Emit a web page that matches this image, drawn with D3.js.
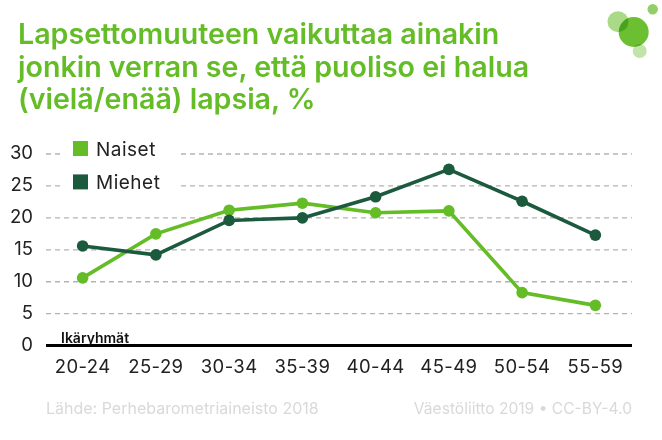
<!DOCTYPE html>
<html>
<head>
<meta charset="utf-8">
<script src="https://cdnjs.cloudflare.com/ajax/libs/d3/7.8.5/d3.min.js"></script>
<style>
    html, body { margin: 0; background: #fff; }
    svg { display: block; font-family: Inter, "Noto Sans", sans-serif; }
</style>
</head>
<body>
<div id="chart"></div>
<script>
const ageGroups = ['20-24', '25-29', '30-34', '35-39', '40-44', '45-49', '50-54', '55-59'];
const naiset = [10.6, 17.5, 21.2, 22.3, 20.8, 21.1, 8.3, 6.3];
const miehet = [15.6, 14.2, 19.6, 20.0, 23.3, 27.6, 22.6, 17.3];
const yTicks = [0, 5, 10, 15, 20, 25, 30];
const titleLines = [
    'Lapsettomuuteen vaikuttaa ainakin',
    'jonkin verran se, että puoliso ei halua',
    '(vielä/enää) lapsia, %'
];
const seriesNames = ['Naiset', 'Miehet'];

const GREEN = '#64bc26';
const DARK = '#1c5a3e';
const width = 662, height = 440;

const svg = d3.select('#chart')
    .append('svg')
    .attr('width', width)
    .attr('height', height);

const x = d3.scaleBand().domain(ageGroups).range([46, 632]);
const y = d3.scaleLinear().domain([0, 30]).range([345.6, 154]);

// logo bubbles, top right corner
const bubbles = [
    { cx: 618, cy: 21.7, r: 10.5, o: 0.55 },
    { cx: 633.7, cy: 32, r: 15, o: 0.95 },
    { cx: 639.7, cy: 51, r: 7, o: 0.4 },
    { cx: 652.7, cy: 9.3, r: 5.2, o: 0.7 }
];
svg.selectAll('circle.bubble')
    .data(bubbles)
    .join('circle')
    .attr('class', 'bubble')
    .attr('cx', d => d.cx)
    .attr('cy', d => d.cy)
    .attr('r', d => d.r)
    .attr('fill', GREEN)
    .attr('fill-opacity', d => d.o)
    .style('mix-blend-mode', 'multiply');

svg.selectAll('text.title')
    .data(titleLines)
    .join('text')
    .attr('class', 'title')
    .attr('x', 18)
    .attr('y', (_d, i) => 44 + i * 32.7)
    .attr('font-size', 28.6)
    .attr('font-weight', 600)
    .attr('fill', GREEN)
    .text(d => d);

// grid lines
svg.append('g')
    .selectAll('line')
    .data(yTicks.filter(d => d > 0))
    .join('line')
    .attr('x1', 46)
    .attr('x2', 632)
    .attr('y1', d => y(d))
    .attr('y2', d => y(d))
    .attr('stroke', '#b5b2b2')
    .attr('stroke-width', 1.3)
    .attr('stroke-dasharray', '5 4');

// y axis labels
svg.append('g')
    .selectAll('text')
    .data(yTicks)
    .join('text')
    .attr('x', 33)
    .attr('y', d => y(d) + 5.2)
    .attr('text-anchor', 'end')
    .attr('font-size', 18.5)
    .attr('fill', '#222')
    .text(d => d);

// baseline
svg.append('line')
    .attr('x1', 46)
    .attr('x2', 632)
    .attr('y1', y(0))
    .attr('y2', y(0))
    .attr('stroke', '#000')
    .attr('stroke-width', 3);

svg.append('text')
    .attr('x', 61)
    .attr('y', 342.7)
    .attr('font-size', 14)
    .attr('font-weight', 600)
    .attr('fill', '#111')
    .text('Ikäryhmät');

// x axis labels
svg.append('g')
    .selectAll('text')
    .data(ageGroups)
    .join('text')
    .attr('x', d => x(d) + x.bandwidth() / 2)
    .attr('y', 372.7)
    .attr('text-anchor', 'middle')
    .attr('font-size', 18.5)
    .attr('letter-spacing', 0.4)
    .attr('fill', '#222')
    .text(d => d);

// legend sits on a white box that hides the grid
svg.append('rect')
    .attr('x', 61)
    .attr('y', 135)
    .attr('width', 117)
    .attr('height', 60)
    .attr('fill', '#fff');

const legend = svg.selectAll('g.legend')
    .data(seriesNames)
    .join('g')
    .attr('class', 'legend')
    .attr('transform', (_d, i) => `translate(73,${141 + i * 33.4})`);
legend.append('rect')
    .attr('width', 15)
    .attr('height', 15)
    .attr('fill', (_d, i) => i ? DARK : GREEN);
legend.append('text')
    .attr('x', 23)
    .attr('y', 15)
    .attr('font-size', 19)
    .attr('letter-spacing', 0.5)
    .attr('fill', '#222')
    .text(d => d);

// series, men on top
const line = d3.line()
    .x((_d, i) => x(ageGroups[i]) + x.bandwidth() / 2)
    .y(d => y(d));

[[naiset, GREEN], [miehet, DARK]].forEach(([values, color]) => {
    const g = svg.append('g');
    g.append('path')
        .attr('d', line(values))
        .attr('fill', 'none')
        .attr('stroke', color)
        .attr('stroke-width', 3.6);
    g.selectAll('circle')
        .data(values)
        .join('circle')
        .attr('cx', (_d, i) => x(ageGroups[i]) + x.bandwidth() / 2)
        .attr('cy', d => y(d))
        .attr('r', 5.8)
        .attr('fill', color);
});

svg.append('text')
    .attr('x', 46)
    .attr('y', 414)
    .attr('font-size', 16)
    .attr('fill', '#d9d9d9')
    .text('Lähde: Perhebarometriaineisto 2018');

svg.append('text')
    .attr('x', 632)
    .attr('y', 414)
    .attr('text-anchor', 'end')
    .attr('font-size', 15.6)
    .attr('fill', '#d9d9d9')
    .text('Väestöliitto 2019 • CC-BY-4.0');
</script>
</body>
</html>
